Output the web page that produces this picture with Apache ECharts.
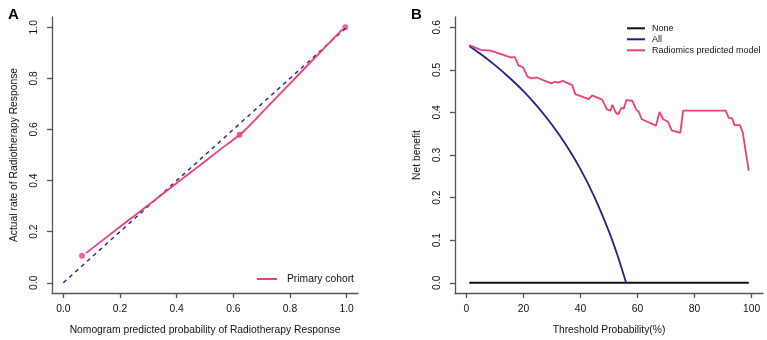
<!DOCTYPE html>
<html>
<head>
<meta charset="utf-8">
<script src="https://cdn.jsdelivr.net/npm/echarts@6/dist/echarts.min.js"></script>
<style>
  html, body { margin: 0; padding: 0; background: #fff; }
  #chart { width: 767px; height: 340px; }
</style>
</head>
<body>
<div id="chart"></div>
<script>
// panel A - calibration
var calX = [0.08, 0.2, 0.3, 0.38, 0.458, 0.55, 0.633, 0.75, 0.87, 0.985];
var calY = [0.116, 0.219, 0.304, 0.373, 0.439, 0.518, 0.589, 0.723, 0.86, 0.992];
var ptsX = [0.066, 0.622, 0.995];
var ptsY = [0.106, 0.579, 1.0];
var diagX = [0, 1];
var diagY = [0, 1];
var ticksA = [0, 0.2, 0.4, 0.6, 0.8, 1.0];

// panel B - decision curve
var noneX = [1, 99];
var noneY = [0, 0];
var allX = [1, 5, 10, 15, 20, 25, 30, 35, 40, 45, 50, 53, 55, 56];
var allY = [0.556, 0.537, 0.511, 0.482, 0.45, 0.413, 0.371, 0.323, 0.267, 0.2, 0.12, 0.064, 0.022, 0];
var modelX = [1, 5, 8.5, 15.5, 17, 18.3, 19.9, 21.4, 22.8, 24.6, 29.8, 31, 32.3, 33.7, 37.1, 38.2,
  42.9, 44.1, 47.6, 49.3, 50.5, 51.2, 52.4, 53.3, 54.4, 55.2, 56.1, 58.2, 59.6, 60.4, 61.5,
  66.5, 67.7, 69, 70.7, 72, 75, 76, 90.9, 92, 93.2, 94, 95.9, 96.9, 97.9, 99];
var modelY = [0.558, 0.547, 0.545, 0.529, 0.53, 0.51, 0.506, 0.484, 0.48, 0.482, 0.468, 0.472, 0.47, 0.474, 0.464, 0.443,
  0.431, 0.44, 0.43, 0.407, 0.404, 0.418, 0.399, 0.396, 0.411, 0.409, 0.429, 0.427, 0.406, 0.402, 0.384,
  0.369, 0.401, 0.384, 0.378, 0.358, 0.352, 0.404, 0.404, 0.387, 0.386, 0.37, 0.37, 0.353, 0.31, 0.263];
var ticksBx = [0, 20, 40, 60, 80, 100];
var ticksBy = [0, 0.1, 0.2, 0.3, 0.4, 0.5, 0.6];

function zip(xs, ys) {
  return xs.map(function (x, i) { return [x, ys[i]]; });
}

var pink = '#EE3F76';
var navy = '#2B1C86';
var font = 'Liberation Sans, Arial, Helvetica, sans-serif';
var lineCol = '#555';

function axis(min, max, ticks, extra) {
  var a = {
    type: 'value',
    min: min,
    max: max,
    nameLocation: 'middle',
    nameTextStyle: {color: '#111', fontSize: 10.3, fontFamily: font},
    axisLine: {show: true, onZero: false, lineStyle: {color: lineCol, width: 1.3}},
    axisTick: {show: true, customValues: ticks, length: 5, lineStyle: {color: lineCol, width: 1.3}},
    axisLabel: {
      customValues: ticks,
      color: '#111',
      fontSize: 10.3,
      fontFamily: font,
      formatter: function (v) { return v.toFixed(1); }
    },
    splitLine: {show: false}
  };
  for (var k in extra) {
    if (typeof extra[k] === 'object' && a[k] && !Array.isArray(extra[k])) {
      for (var j in extra[k]) a[k][j] = extra[k][j];
    } else {
      a[k] = extra[k];
    }
  }
  return a;
}

var chart = echarts.init(document.getElementById('chart'));
chart.setOption({
  animation: false,
  title: [
    {text: 'A', left: 3, top: 2, textStyle: {fontSize: 15, fontWeight: 'bold', color: '#000', fontFamily: font}},
    {text: 'B', left: 406, top: 2, textStyle: {fontSize: 15, fontWeight: 'bold', color: '#000', fontFamily: font}}
  ],
  legend: [
    {
      data: ['Primary cohort'],
      left: 257, top: 274, padding: 0,
      icon: 'rect', itemWidth: 20, itemHeight: 2,
      textStyle: {color: '#111', fontSize: 10.3, fontFamily: font, padding: [0, 0, 0, 5]}
    },
    {
      data: ['None', 'All', 'Radiomics predicted model'],
      orient: 'vertical',
      left: 627, top: 23.8, padding: 0,
      icon: 'rect', itemWidth: 18, itemHeight: 2, itemGap: 2,
      textStyle: {color: '#111', fontSize: 9, fontFamily: font, padding: [0, 0, 0, 2]}
    }
  ],
  grid: [
    {left: 52, top: 17, width: 306, height: 276},
    {left: 455, top: 17, width: 308, height: 276}
  ],
  xAxis: [
    axis(-0.04, 1.04, ticksA, {
      gridIndex: 0,
      name: 'Nomogram predicted probability of Radiotherapy Response',
      nameGap: 32,
      axisLabel: {margin: 11}
    }),
    axis(-4, 104, ticksBx, {
      gridIndex: 1,
      name: 'Threshold Probability(%)',
      nameGap: 32,
      axisLabel: {margin: 11, formatter: function (v) { return String(v); }}
    })
  ],
  yAxis: [
    axis(-0.04, 1.04, ticksA, {
      gridIndex: 0,
      name: 'Actual rate of Radiotherapy Response',
      nameGap: 33,
      axisLabel: {rotate: 90, margin: 13}
    }),
    axis(-0.024, 0.624, ticksBy, {
      gridIndex: 1,
      name: 'Net benefit',
      nameGap: 33,
      axisLabel: {rotate: 90, margin: 13}
    })
  ],
  series: [
    {
      name: 'diag', type: 'line', xAxisIndex: 0, yAxisIndex: 0,
      data: zip(diagX, diagY), symbol: 'none', silent: true,
      lineStyle: {color: navy, width: 1.4, type: [4, 4]}
    },
    {
      name: 'Primary cohort', type: 'line', xAxisIndex: 0, yAxisIndex: 0,
      data: zip(calX, calY), symbol: 'none', smooth: 0.2,
      lineStyle: {color: pink, width: 1.8}, itemStyle: {color: pink}
    },
    {
      name: 'points', type: 'scatter', xAxisIndex: 0, yAxisIndex: 0,
      data: zip(ptsX, ptsY), symbolSize: 6,
      itemStyle: {color: pink}
    },
    {
      name: 'None', type: 'line', xAxisIndex: 1, yAxisIndex: 1,
      data: zip(noneX, noneY), symbol: 'none',
      lineStyle: {color: '#111', width: 2}, itemStyle: {color: '#111'}
    },
    {
      name: 'All', type: 'line', xAxisIndex: 1, yAxisIndex: 1,
      data: zip(allX, allY), symbol: 'none', smooth: 0.3,
      lineStyle: {color: navy, width: 1.8}, itemStyle: {color: navy}
    },
    {
      name: 'Radiomics predicted model', type: 'line', xAxisIndex: 1, yAxisIndex: 1,
      data: zip(modelX, modelY), symbol: 'none',
      lineStyle: {color: pink, width: 1.8}, itemStyle: {color: pink}
    }
  ]
});
</script>
</body>
</html>
